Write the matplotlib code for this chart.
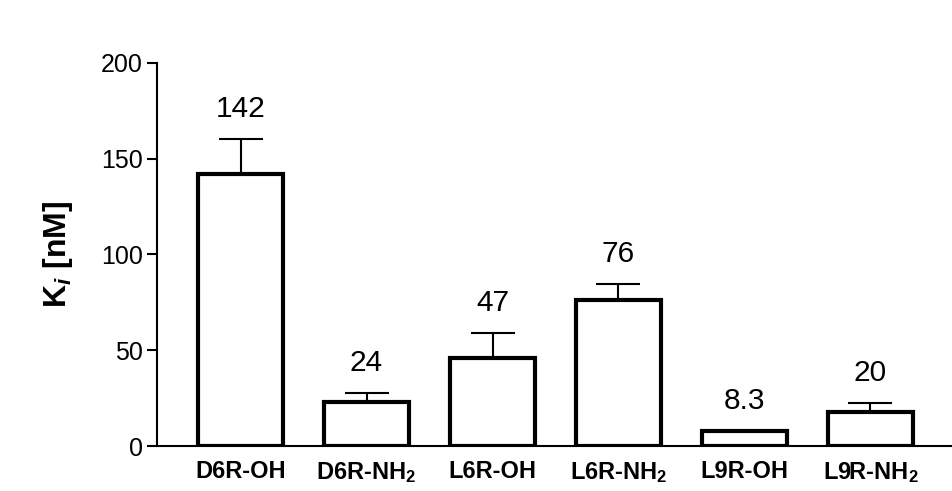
import matplotlib
matplotlib.use('Agg')
import matplotlib.pyplot as plt
import numpy as np

plt.rcParams['font.family'] = ['Liberation Sans', 'DejaVu Sans']
plt.rcParams['mathtext.fontset'] = 'custom'
plt.rcParams['mathtext.rm'] = 'Liberation Sans'
plt.rcParams['mathtext.bf'] = 'Liberation Sans:bold'
plt.rcParams['mathtext.it'] = 'Liberation Sans:italic:bold'

# data
peptides = ['D6R-OH', r'D6R-NH$_\mathbf{2}$', 'L6R-OH',
            r'L6R-NH$_\mathbf{2}$', 'L9R-OH', r'L9R-NH$_\mathbf{2}$']
ki_mean = [142, 23, 46, 76, 8, 18]
ki_err = [18, 4.5, 13, 8.5, 0, 4.5]
ki_text = ['142', '24', '47', '76', '8.3', '20']

fig = plt.figure(figsize=(9.52, 4.91), dpi=100)
ax = fig.add_axes([0.1649, 0.0916, 0.8351, 0.7807])

x = np.arange(len(peptides))
ax.bar(x, ki_mean, width=0.675, color='white', edgecolor='black',
       linewidth=3, zorder=3)
ax.errorbar(x, ki_mean, yerr=[np.zeros(len(x)), ki_err], fmt='none',
            ecolor='black', elinewidth=1.5, capsize=15.5, capthick=1.5,
            zorder=2)

# value labels above each bar
for xi, m, e, t in zip(x, ki_mean, ki_err, ki_text):
    ax.text(xi, m + e + 11.5, t, ha='center', va='baseline', fontsize=21.5)

ax.set_xlim(-0.663, 5.647)
ax.set_ylim(0, 200)
ax.set_yticks([0, 50, 100, 150, 200])
ax.set_xticks(x)
ax.set_xticklabels(peptides, fontsize=17, fontweight='bold')
ax.tick_params(axis='x', length=0, pad=10)
ax.tick_params(axis='y', length=7, width=1.5, labelsize=18, pad=3)
ax.set_ylabel(r'K$_{\mathit{i}}$ [nM]', fontsize=23, fontweight='bold',
              labelpad=19)

ax.spines['top'].set_visible(False)
ax.spines['right'].set_visible(False)
ax.spines['left'].set_linewidth(1.5)
ax.spines['bottom'].set_linewidth(1.5)

fig.savefig('out.png', dpi=100)
